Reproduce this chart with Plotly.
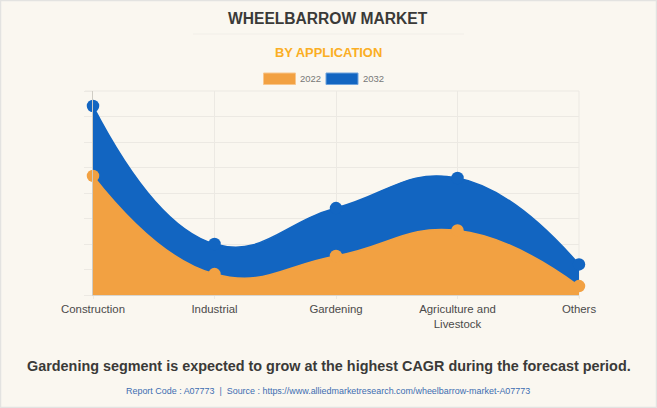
import plotly.graph_objects as go

categories = ["Construction", "Industrial", "Gardening", "Agriculture and<br>Livestock", "Others"]
values_2022 = [4.67, 0.82, 1.53, 2.53, 0.35]
values_2032 = [7.41, 2.0, 3.41, 4.59, 1.2]
BLUE = "#1265C1"
ORANGE = "#F2A142"
W, H = 657, 408
L, R, T, B = 93, 579, 91, 295
BG = "#FAF7F0"
GRID = "#ECE9E3"

def px(x): return (x - L) / (R - L)
def py(y): return (B - y) / (B - T)

fig = go.Figure()
for name, vals, col in [("2032", values_2032, BLUE), ("2022", values_2022, ORANGE)]:
    fig.add_trace(go.Scatter(
        x=categories, y=vals, name=name, mode="lines+markers", fill="tozeroy",
        fillcolor=col, line=dict(color=col, width=1.5, shape="spline", smoothing=1.3),
        marker=dict(color=col, size=12.5), cliponaxis=False, showlegend=False))

shapes = [
    dict(type="rect", xref="paper", yref="paper", x0=px(0.5), x1=px(656.5), y0=py(407.5), y1=py(0.5),
         line=dict(color="#E3E3E1", width=1.5), layer="below"),
    dict(type="line", xref="paper", yref="paper", x0=px(193), x1=px(464), y0=py(34), y1=py(34),
         line=dict(color="#F1EEE8", width=1)),
    dict(type="line", xref="paper", yref="paper", x0=px(85), x1=1, y0=1, y1=1,
         line=dict(color=GRID, width=1), layer="below"),
    dict(type="line", xref="paper", yref="paper", x0=1, x1=1, y0=py(298), y1=1,
         line=dict(color=GRID, width=1), layer="below"),
]
for x0, col, edge in [(263.5, ORANGE, "#F8C68C"), (326, BLUE, "#6FA3DC")]:
    shapes.append(dict(type="rect", xref="paper", yref="paper", x0=px(x0), x1=px(x0 + 32),
                       y0=py(84.5), y1=py(73), fillcolor=col, line=dict(color=edge, width=1)))

def note(text, x, y, size, color, bold=False, family="Liberation Sans"):
    return dict(text=f"<b>{text}</b>" if bold else text, xref="paper", yref="paper",
                x=px(x), y=py(y), xanchor="center", yanchor="middle", showarrow=False,
                font=dict(size=size, color=color, family=family))

annotations = [
    note("WHEELBARROW MARKET", 328, 19, 15.6, "#3A3A38", True),
    note("BY APPLICATION", 328.5, 52, 12.9, "#FBAE24", True),
    note("2022", 310.5, 78, 9.5, "#777777"),
    note("2032", 373.5, 78, 9.5, "#777777"),
    note("Gardening segment is expected to grow at the highest CAGR during the forecast period.",
         328.5, 366, 14.4, "#3A3A38", True),
    note("Report Code : A07773  |  Source : https://www.alliedmarketresearch.com/wheelbarrow-market-A07773",
         328, 391, 8.95, "#3D6DB0"),
]

fig.update_layout(
    width=W, height=H, autosize=False, paper_bgcolor=BG, plot_bgcolor=BG,
    margin=dict(l=L, r=W - R, t=T, b=H - B), showlegend=False,
    shapes=shapes, annotations=annotations,
    font=dict(family="Liberation Sans", color="#555555", size=12),
    xaxis=dict(type="category", range=[0, 4], showgrid=True, gridcolor=GRID, gridwidth=1,
               ticks="outside", ticklen=3, tickcolor=GRID, zeroline=False,
               showline=True, linecolor="#D8D5CF", tickfont=dict(size=11.4, color="#4A4A4A")),
    yaxis=dict(range=[0, 8], dtick=1, showgrid=True, gridcolor=GRID, gridwidth=1,
               ticks="outside", ticklen=8, tickcolor=GRID, showticklabels=False,
               zeroline=False, showline=True, linecolor="#CFCCC4"),
)
fig.write_html("out.html", config={"displayModeBar": False},
               post_script="document.body.style.margin='0';document.body.style.overflow='hidden';document.body.style.background='#FAF7F0';")
